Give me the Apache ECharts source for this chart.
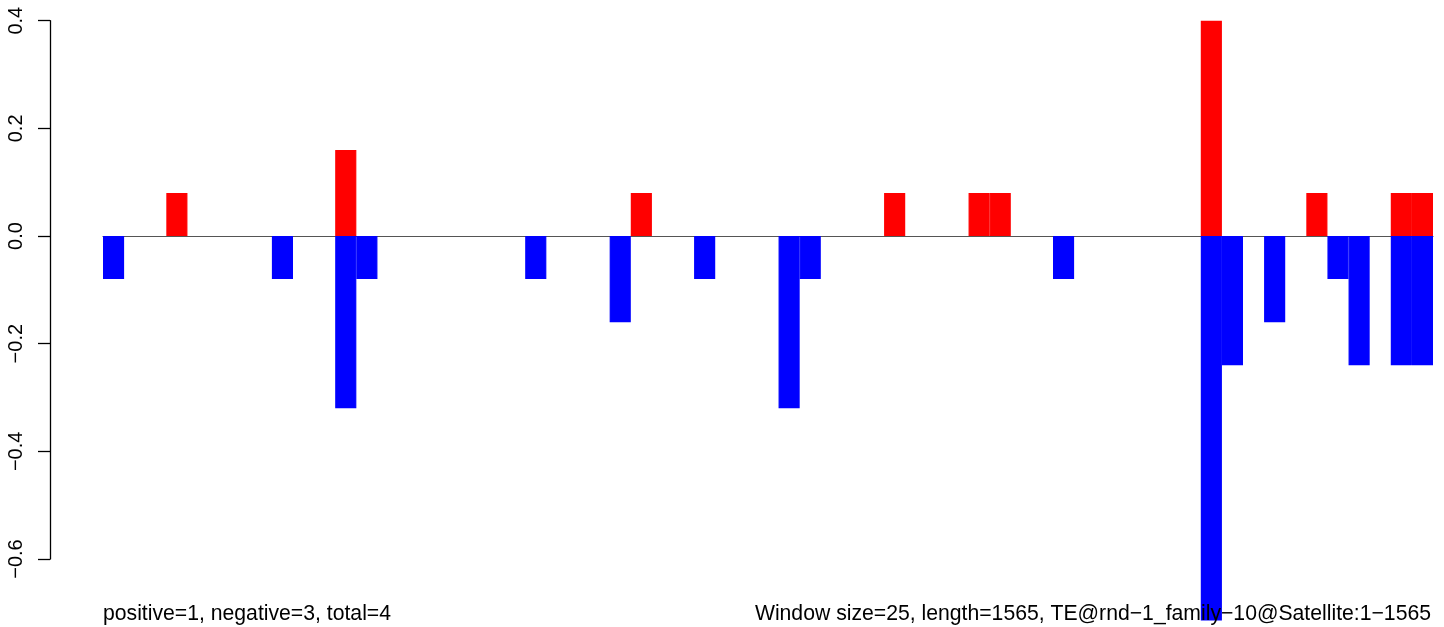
<!DOCTYPE html>
<html>
<head>
<meta charset="utf-8">
<script src="https://cdn.jsdelivr.net/npm/echarts@6/dist/echarts.min.js"></script>
<style>
  html, body { margin: 0; padding: 0; background: #fff; }
  #main { width: 1444px; height: 627px; }
</style>
</head>
<body>
<div id="main"></div>
<script>
// 63 windows of size 25 over length 1565
var windows = [];
for (var i = 1; i <= 63; i++) windows.push(String(i));

// positive (red) share per window
var posValues = [
  0, 0, 0, 0.08, 0, 0, 0, 0, 0, 0,
  0, 0.16, 0, 0, 0, 0, 0, 0, 0, 0,
  0, 0, 0, 0, 0, 0.08, 0, 0, 0, 0,
  0, 0, 0, 0, 0, 0, 0, 0.08, 0, 0,
  0, 0.08, 0.08, 0, 0, 0, 0, 0, 0, 0,
  0, 0, 0.4, 0, 0, 0, 0, 0.08, 0, 0,
  0, 0.08, 0.08
];

// negative (blue) share per window
var negValues = [
  -0.08, 0, 0, 0, 0, 0, 0, 0, -0.08, 0,
  0, -0.32, -0.08, 0, 0, 0, 0, 0, 0, 0,
  -0.08, 0, 0, 0, -0.16, 0, 0, 0, -0.08, 0,
  0, 0, -0.32, -0.08, 0, 0, 0, 0, 0, 0,
  0, 0, 0, 0, 0, -0.08, 0, 0, 0, 0,
  0, 0, -0.72, -0.24, 0, -0.16, 0, 0, -0.08, -0.24,
  0, -0.24, -0.24
];

var yTicks = [-0.6, -0.4, -0.2, 0.0, 0.2, 0.4];
var leftNote = 'positive=1, negative=3, total=4';
var rightNote = 'Window size=25, length=1565, TE@rnd\u22121_family\u221210@Satellite:1\u22121565';

// empty windows draw nothing
function noZero(arr) {
  return arr.map(function (v) { return v === 0 ? null : v; });
}

var chart = echarts.init(document.getElementById('main'), null, { renderer: 'canvas' });

var option = {
  backgroundColor: '#fff',
  animation: false,
  textStyle: { fontFamily: 'Liberation Sans, Arial, sans-serif' },
  title: [{
    text: leftNote,
    left: 103,
    top: 604,
    padding: 0,
    textStyle: { fontSize: 21.2, fontWeight: 'normal', color: '#000', fontFamily: 'Liberation Sans' }
  }, {
    text: rightNote,
    right: 13,
    top: 604,
    padding: 0,
    textStyle: { fontSize: 21.2, fontWeight: 'normal', color: '#000', fontFamily: 'Liberation Sans' }
  }],
  grid: [
    { left: 103, right: 11, top: 20.7, bottom: 7 },
    { left: 50, width: 1383, top: 20.7, height: 538.3 }
  ],
  xAxis: [{
    gridIndex: 0,
    type: 'category',
    data: windows,
    axisLine: { show: true, onZero: true, lineStyle: { color: '#555', width: 1.2 } },
    axisTick: { show: false },
    axisLabel: { show: false },
    splitLine: { show: false }
  }, {
    gridIndex: 1,
    type: 'category',
    data: windows,
    show: false
  }],
  yAxis: [{
    gridIndex: 0,
    type: 'value',
    min: -0.7134,
    max: 0.4,
    show: false
  }, {
    gridIndex: 1,
    type: 'value',
    min: yTicks[0],
    max: yTicks[yTicks.length - 1],
    interval: 0.2,
    axisLine: { show: true, lineStyle: { color: '#000', width: 1.3 } },
    axisTick: { show: true, length: 12, lineStyle: { color: '#000', width: 1.3 } },
    splitLine: { show: false },
    axisLabel: {
      rotate: 90,
      margin: 24,
      fontSize: 20,
      color: '#000',
      fontFamily: 'Liberation Sans',
      formatter: function (v) {
        var s = Math.abs(v).toFixed(1);
        return v < -1e-9 ? '\u2212' + s : s;
      }
    }
  }],
  series: [{
    name: 'positive',
    type: 'bar',
    xAxisIndex: 0,
    yAxisIndex: 0,
    data: noZero(posValues),
    barCategoryGap: '0%',
    barGap: '-100%',
    itemStyle: { color: '#ff0000', borderColor: '#ff0000', borderWidth: 1.2 }
  }, {
    name: 'negative',
    type: 'bar',
    xAxisIndex: 0,
    yAxisIndex: 0,
    data: noZero(negValues),
    barCategoryGap: '0%',
    barGap: '-100%',
    itemStyle: { color: '#0000ff', borderColor: '#0000ff', borderWidth: 1.2 }
  }, {
    name: 'axis',
    type: 'line',
    xAxisIndex: 1,
    yAxisIndex: 1,
    data: []
  }]
};

chart.setOption(option);
</script>
</body>
</html>
